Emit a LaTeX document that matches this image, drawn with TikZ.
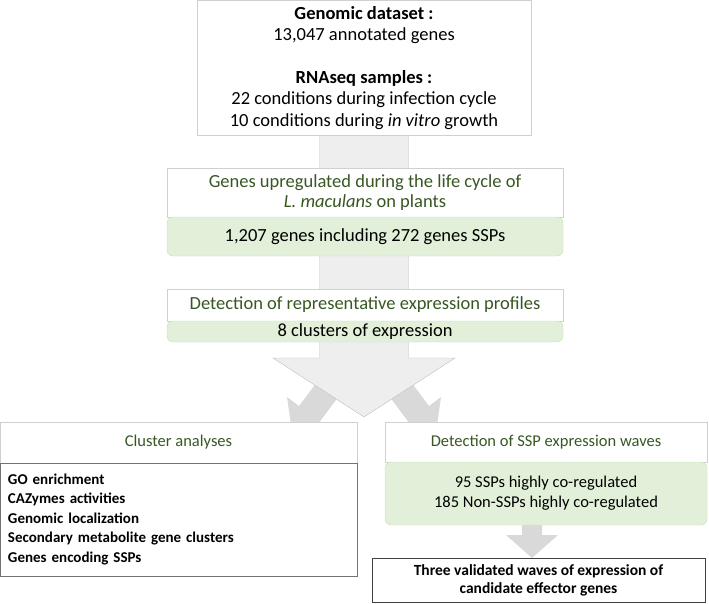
\documentclass[tikz,border=0pt]{standalone}
\usepackage{fontspec}
\setmainfont{Carlito}
\usetikzlibrary{calc}
\usetikzlibrary{positioning}
\usetikzlibrary{backgrounds}
\definecolor{box-gray}{RGB}{208, 208, 208}
\definecolor{arrow-gray}{RGB}{238, 238, 238}
\definecolor{arrow-edge}{RGB}{190, 190, 190}
\definecolor{side-gray}{RGB}{217, 217, 217}
\definecolor{title-green}{RGB}{56, 87, 35}
\definecolor{pale-green}{RGB}{226, 240, 217}
\definecolor{green-edge}{RGB}{197, 224, 180}

\tikzset{
  titlebox/.style={draw=box-gray, fill=white, text=title-green, align=center, inner sep=0pt, outer sep=0pt},
  greenbox/.style={draw=green-edge, fill=pale-green, rounded corners=6pt, align=center, inner sep=0pt, outer sep=0pt},
  resultbox/.style={draw=black!75, fill=white, align=center, inner sep=0pt, outer sep=0pt, font=\bfseries\fontsize{15.5}{18}\selectfont}
}

\begin{document}
\begin{tikzpicture}[x=1pt, y=-1pt, every node/.style={font=\fontsize{18.5}{20}\selectfont}]
\useasboundingbox (0,0) rectangle (709,604);

\node[draw=box-gray, fill=white, align=center, inner sep=0pt, outer sep=0pt, minimum width=334, minimum height=135, font=\fontsize{18.5}{21.3}\selectfont] (dataset) at (364,68)
  {\textbf{Genomic dataset :}\\ 13,047 annotated genes\\[21.3pt] \textbf{RNAseq samples :}\\ 22 conditions during infection cycle\\ 10 conditions during \textit{in vitro} growth};

\node[titlebox, minimum width=396, minimum height=49] (upreg) at (365,192.5)
  {Genes upregulated during the life cycle of\\ \textit{L. maculans} on plants};
\node[greenbox, minimum width=396, minimum height=39, below=0pt of upreg] (upcount) {1,207 genes including 272 genes SSPs};

\node[titlebox, minimum width=396, minimum height=32] (profiles) at (365,305) {Detection of representative expression profiles};
\node[greenbox, minimum width=396, minimum height=21, below=0pt of profiles] (clusters) {8 clusters of expression};

\node[titlebox, minimum width=357, minimum height=41, font=\fontsize{16.5}{20}\selectfont] (analyses) at (178.5,442.5) {Cluster analyses};
\node[resultbox, draw=black!55, align=left, text width=341, inner xsep=8pt, minimum height=113, below=0pt of analyses, font=\bfseries\fontsize{15}{19.5}\selectfont] (methods)
  {GO enrichment\\ CAZymes activities\\ Genomic localization\\ Secondary metabolite gene clusters\\ Genes encoding SSPs};

\node[titlebox, minimum width=322, minimum height=40, font=\fontsize{16.5}{20}\selectfont] (waves) at (546,442) {Detection of SSP expression waves};
\node[greenbox, minimum width=322, minimum height=63, below=0pt of waves, font=\fontsize{16.5}{20}\selectfont] (coreg) {95 SSPs highly co-regulated\\ 185 Non-SSPs highly co-regulated};

\node[resultbox, minimum width=333, minimum height=44] (validated) at (538.5,580)
  {Three validated waves of expression of\\ candidate effector genes};

\begin{pgfonlayer}{background}
% side arrows
\fill[side-gray] (347,342) -- (299,406) -- (287,397) -- (292.6,436.2) -- (331.8,430.6) -- (319.8,421.6) -- (367.8,357.6) -- cycle;
\fill[side-gray] (381,342) -- (429,406) -- (441,397) -- (435.4,436.2) -- (396.2,430.6) -- (408.2,421.6) -- (360.2,357.6) -- cycle;
% main arrow
\filldraw[fill=arrow-gray, draw=arrow-edge] ($(dataset.south)+(-44.5,0)$) -- (319.5,358) -- (273,358) -- (364,417) -- (455,358) -- (408.5,358) -- ($(dataset.south)+(44.5,0)$) -- cycle;
% last arrow
\fill[side-gray] ($(coreg.south)+(-24,-4)$) -- (522,535) -- (506,535) -- (532,558) -- (558,535) -- (542,535) -- ($(coreg.south)+(-4,-4)$) -- cycle;
\end{pgfonlayer}
\end{tikzpicture}
\end{document}
